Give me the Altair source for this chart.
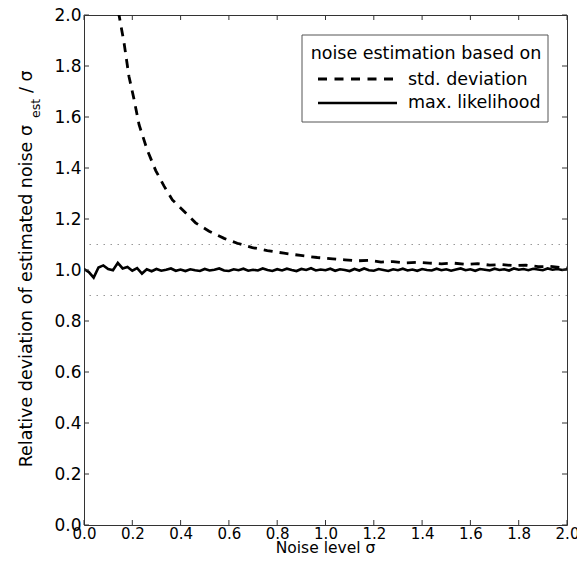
import altair as alt
import pandas as pd

FONT = "DejaVu Sans"

# ---- data ----
tick_vals = [0.0, 0.2, 0.4, 0.6, 0.8, 1.0, 1.2, 1.4, 1.6, 1.8, 2.0]
ref_levels = [0.9, 1.1]

# estimation based on standard deviation (dashed)
sd_x = [0.12, 0.145, 0.166, 0.186, 0.207, 0.228, 0.262, 0.297, 0.331, 0.366,
        0.414, 0.462, 0.518, 0.58, 0.635, 0.697, 0.759, 0.828, 0.897, 0.966,
        1.03, 1.08, 1.13, 1.18, 1.23, 1.28, 1.33, 1.38, 1.43, 1.48,
        1.53, 1.58, 1.63, 1.68, 1.73, 1.78, 1.83, 1.88, 1.93, 1.97, 2.0]
sd_y = [2.2, 2.0, 1.89, 1.76, 1.67, 1.57, 1.47, 1.39, 1.33, 1.275,
        1.23, 1.185, 1.152, 1.124, 1.105, 1.088, 1.076, 1.066, 1.057, 1.049,
        1.044, 1.040, 1.036, 1.038, 1.031, 1.033, 1.028, 1.030, 1.027, 1.024,
        1.027, 1.022, 1.025, 1.019, 1.021, 1.017, 1.019, 1.013, 1.014, 1.010, 1.008]

# estimation based on maximum likelihood (solid), sampled every 0.02
ml_y = [1.004, 0.992, 0.970, 1.010, 1.018, 1.004, 0.999, 1.028, 1.006, 1.012,
        0.997, 1.007, 0.986, 1.003, 0.995, 1.004, 0.997, 1.001, 1.006, 0.997,
        1.002, 0.996, 1.003, 0.999, 0.996, 1.004, 0.998, 1.001, 1.006, 0.998,
        0.996, 1.003, 0.999, 1.005, 0.997, 1.001, 0.998, 1.006, 1.000, 0.996,
        1.003, 0.998, 1.005, 1.000, 0.996, 1.004, 1.000, 1.007, 0.998, 1.002,
        0.999, 1.005, 0.997, 1.003, 1.000, 0.996, 1.004, 0.998, 1.006, 0.999,
        0.997, 1.004, 1.000, 0.996, 1.003, 0.999, 1.005, 0.998, 1.002, 0.997,
        1.004, 1.000, 0.998, 1.005, 0.999, 1.003, 0.997, 1.002, 1.006, 0.999,
        1.003, 0.997, 1.004, 1.001, 0.998, 1.005, 1.000, 1.003, 0.998, 1.006,
        1.001, 1.004, 0.999, 1.005, 1.002, 0.999, 1.006, 1.001, 1.004, 1.000,
        1.003]
ml_x = [round(0.02 * i, 2) for i in range(len(ml_y))]

legend_title = "noise estimation based on"
legend_labels = ["std. deviation", "max. likelihood"]
x_title = "Noise level σ"
y_title_main = "Relative deviation of estimated noise σ"
y_title_sub = "est"
y_title_end = "/ σ"

# ---- tables ----
sd_df = pd.DataFrame({"x": sd_x, "y": sd_y})
ml_df = pd.DataFrame({"x": ml_x, "y": ml_y})
ref_df = pd.DataFrame({"y": ref_levels})
tick_df = pd.DataFrame({"t": tick_vals})
one = pd.DataFrame({"a": [0]})

W, H = 483, 510

xs = alt.Scale(domain=[0, 2], nice=False, zero=False)
ys = alt.Scale(domain=[0, 2], nice=False, zero=False)

common_axis = dict(values=tick_vals, format=".1f", grid=False, domain=False,
                   ticks=False, tickSize=0, labelFont=FONT, title="",
                   labelColor="black", labelFlush=False, labelOverlap=False)
xaxis = alt.Axis(labelFontSize=15, labelPadding=1, **common_axis)
yaxis = alt.Axis(labelFontSize=17, labelPadding=3, **common_axis)


def X(f):
    return alt.X(f, type="quantitative", scale=xs, axis=xaxis)


def Y(f):
    return alt.Y(f, type="quantitative", scale=ys, axis=yaxis)


refs = alt.Chart(ref_df).mark_rule(color="#999999", strokeWidth=1,
                                   strokeDash=[1.5, 5.5]).encode(y=Y("y"))

sd_line = alt.Chart(sd_df).mark_line(color="black", strokeWidth=2.8,
                                     strokeDash=[9, 7], clip=True).encode(
    x=X("x"), y=Y("y"))

ml_line = alt.Chart(ml_df).mark_line(color="black", strokeWidth=2.6,
                                     clip=True).encode(x=X("x"), y=Y("y"))

tick_col = "#333333"
xt_bottom = alt.Chart(tick_df).mark_rule(color=tick_col, strokeWidth=1).encode(
    x=X("t"), y=alt.value(H), y2=alt.value(H - 5))
xt_top = alt.Chart(tick_df).mark_rule(color=tick_col, strokeWidth=1).encode(
    x=X("t"), y=alt.value(0), y2=alt.value(5))
yt_left = alt.Chart(tick_df).mark_rule(color=tick_col, strokeWidth=1).encode(
    y=Y("t"), x=alt.value(0), x2=alt.value(5))
yt_right = alt.Chart(tick_df).mark_rule(color=tick_col, strokeWidth=1).encode(
    y=Y("t"), x=alt.value(W), x2=alt.value(W - 5))

# legend box
leg_box = alt.Chart(one).mark_rect(fill="white", stroke="#555555",
                                   strokeWidth=1).encode(
    x=alt.value(218), x2=alt.value(464), y=alt.value(20), y2=alt.value(107))
leg_title = alt.Chart(one).mark_text(text=legend_title, font=FONT, fontSize=17.5,
                                     color="black", align="center",
                                     baseline="middle").encode(
    x=alt.value(342), y=alt.value(39))
leg_t1 = alt.Chart(one).mark_text(text=legend_labels[0], font=FONT, fontSize=17.5,
                                  color="black", align="left",
                                  baseline="middle").encode(
    x=alt.value(324), y=alt.value(65))
leg_t2 = alt.Chart(one).mark_text(text=legend_labels[1], font=FONT, fontSize=17.5,
                                  color="black", align="left",
                                  baseline="middle").encode(
    x=alt.value(324), y=alt.value(88))
leg_l1 = alt.Chart(one).mark_rule(color="black", strokeWidth=2.8,
                                  strokeDash=[9, 7.5]).encode(
    x=alt.value(234), x2=alt.value(314), y=alt.value(64))
leg_l2 = alt.Chart(one).mark_rule(color="black", strokeWidth=2.6).encode(
    x=alt.value(234), x2=alt.value(313), y=alt.value(88))

# x-axis title
xt_title = alt.Chart(one).mark_text(text=x_title, font=FONT, fontSize=15.5,
                                    color="black", align="center",
                                    baseline="alphabetic").encode(
    x=alt.value(W / 2), y=alt.value(H + 28))

# y-axis title with subscript
yt_main = alt.Chart(one).mark_text(text=y_title_main, font=FONT, fontSize=17.5,
                                   color="black", angle=270, align="right",
                                   baseline="alphabetic").encode(
    x=alt.value(-52), y=alt.value(110))
yt_sub = alt.Chart(one).mark_text(text=y_title_sub, font=FONT, fontSize=12.5,
                                  color="black", angle=270, align="left",
                                  baseline="alphabetic").encode(
    x=alt.value(-44), y=alt.value(103))
yt_end = alt.Chart(one).mark_text(text=y_title_end, font=FONT, fontSize=17.5,
                                  color="black", angle=270, align="left",
                                  baseline="alphabetic").encode(
    x=alt.value(-52), y=alt.value(78))

chart = alt.layer(
    refs, sd_line, ml_line, xt_bottom, xt_top, yt_left, yt_right,
    leg_box, leg_title, leg_t1, leg_t2, leg_l1, leg_l2,
    xt_title, yt_main, yt_sub, yt_end,
).properties(
    width=W, height=H, autosize="none",
    padding={"left": 76, "top": 7, "right": 10, "bottom": 31},
    background="white",
).configure_view(stroke="#333333", strokeWidth=1)

chart.save("out.html", embed_options={"renderer": "svg", "actions": False})
